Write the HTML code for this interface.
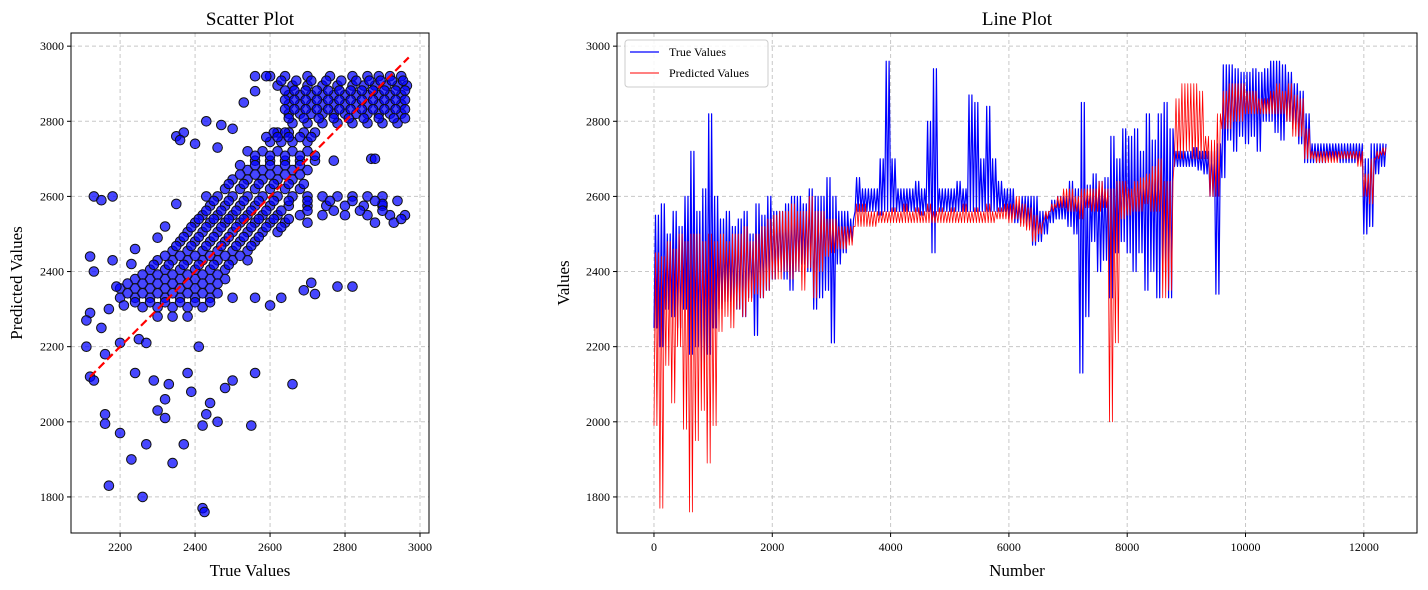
<!DOCTYPE html>
<html><head><meta charset="utf-8">
<style>
html,body{margin:0;padding:0;background:#fff;}
svg{display:block;font-family:"Liberation Serif","DejaVu Serif",serif;}
</style></head>
<body>
<svg id="fig" width="1428" height="590" viewBox="0 0 1428 590"></svg>
<script>
// ---------- Scatter data ----------
const scatterTrue = [2560,2600,2640,2700,2760,2820,2860,2890,2920,2950,
2620,2660,2700,2740,2780,2820,2850,2880,2910,2940,2965,
2650,2680,2710,2740,2770,2800,2830,2860,2890,2920,2950,
2650,2680,2710,2740,2770,2800,2830,2860,2890,2920,2950,
2650,2680,2710,2740,2770,2800,2830,2860,2890,2920,2950,
2660,2700,2740,2780,2820,2860,2900,2940,
2620,2650,2690,2720,2610,
2600,2630,2660,2700,
2580,2620,2660,2700,2540,
2560,2600,2640,2680,2720,2770,
2540,2580,2620,2660,2700,
2500,2540,2580,2620,2660,
2480,2520,2560,2600,2640,2680,
2430,2460,2500,2540,2580,2620,2660,2700,2740,2780,2820,2860,2900,
2440,2480,2520,2560,2600,2650,2700,2750,2800,2850,2900,
2420,2460,2500,2540,2580,2620,2680,2740,2800,2860,2920,2960,
2400,2440,2480,2520,2560,2600,2640,2700,
2380,2420,2460,2500,2540,2580,2620,
2360,2400,2440,2480,2520,2560,
2340,2380,2420,2460,2500,2540,
2300,2340,2380,2420,2460,2500,2540,
2280,2320,2360,2400,2440,2480,
2240,2280,2320,2360,2400,2440,2480,
2200,2240,2280,2320,2360,2400,2440,
2200,2240,2280,2320,2360,2400,2440,2500,2560,
2260,2300,2340,2380,2420,
2300,2340,2380,
2130,2150,2180,2120,2130,2120,2110,2110,2120,2130,2160,2200,2160,2160,2200,2230,2170,2260,2270,2240,2290,2300,2320,2340,2370,2320,2330,2380,2390,2410,2420,2430,2440,2460,2420,2425,2480,2500,2550,2560,2430,2470,2350,2370,2360,2400,2460,2500,2530,2560,2590,2640,2660,2710,2720,2780,2820,2690,2630,2600,2870,2880,2930,2950,2880,2900,2350,2320,2300,2240,2230,2190,2180,2150,2170,2250,2270,2210];
const scatterPred = [2920,2920,2920,2920,2920,2920,2920,2920,2920,2920,
2895,2895,2895,2895,2895,2895,2895,2895,2895,2895,2895,
2870,2870,2870,2870,2870,2870,2870,2870,2870,2870,2870,
2845,2845,2845,2845,2845,2845,2845,2845,2845,2845,2845,
2820,2820,2820,2820,2820,2820,2820,2820,2820,2820,2820,
2795,2795,2795,2795,2795,2795,2795,2795,
2770,2770,2770,2770,2770,
2745,2745,2745,2745,
2720,2720,2720,2720,2720,
2695,2695,2695,2695,2695,2695,
2670,2670,2670,2670,2670,
2645,2645,2645,2645,2645,
2620,2620,2620,2620,2620,2620,
2600,2600,2600,2600,2600,2600,2600,2600,2600,2600,2600,2600,2600,
2575,2575,2575,2575,2575,2575,2575,2575,2575,2575,2575,
2550,2550,2550,2550,2550,2550,2550,2550,2550,2550,2550,2550,
2530,2530,2530,2530,2530,2530,2530,2530,
2505,2505,2505,2505,2505,2505,2505,
2480,2480,2480,2480,2480,2480,
2455,2455,2455,2455,2455,2455,
2430,2430,2430,2430,2430,2430,2430,
2405,2405,2405,2405,2405,2405,
2380,2380,2380,2380,2380,2380,2380,
2355,2355,2355,2355,2355,2355,2355,
2330,2330,2330,2330,2330,2330,2330,2330,2330,
2305,2305,2305,2305,2305,
2280,2280,2280,
2600,2590,2600,2440,2400,2290,2270,2200,2120,2110,2180,2210,2020,1995,1970,1900,1830,1800,1940,2130,2110,2030,2010,1890,1940,2060,2100,2130,2080,2200,1990,2020,2050,2000,1770,1760,2090,2110,1990,2130,2800,2790,2760,2770,2750,2740,2730,2780,2850,2880,2920,2770,2100,2370,2340,2360,2360,2350,2330,2310,2700,2700,2530,2540,2530,2580,2580,2520,2490,2460,2420,2360,2430,2250,2300,2220,2210,2310];
// second set of dense-cluster points
const scatterTrue2 = [2630,2670,2710,2750,2790,2830,2865,2895,2925,2955,
2640,2665,2695,2725,2755,2785,2815,2845,2875,2905,2935,2960,
2640,2665,2695,2725,2755,2785,2815,2845,2875,2905,2935,2960,
2640,2665,2695,2725,2755,2785,2815,2845,2875,2905,2935,2960,
2650,2690,2730,2770,2810,2850,2890,2930,2960,
2590,2620,2650,2680,2710,
2560,2600,2640,2680,2720,
2520,2560,2600,2640,2680,
2520,2560,2600,2640,2680,
2490,2530,2570,2610,2650,2690,
2450,2490,2530,2570,2610,2650,2700,2760,2820,2880,2940,
2430,2470,2510,2550,2590,2630,2700,2770,2840,2900,
2410,2450,2490,2530,2570,2610,2650,
2390,2430,2470,2510,2550,2590,2630,
2370,2410,2450,2490,2530,2570,
2350,2390,2430,2470,2510,2550,
2320,2360,2400,2440,2480,2520,
2290,2330,2370,2410,2450,2490,
2260,2300,2340,2380,2420,2460,
2220,2260,2300,2340,2380,2420,2460,
2220,2260,2300,2340,2380,2420,2460,
2240,2280,2320,2360,2400,2440];
const scatterPred2 = [2908,2908,2908,2908,2908,2908,2908,2908,2908,2908,
2882,2882,2882,2882,2882,2882,2882,2882,2882,2882,2882,2882,
2857,2857,2857,2857,2857,2857,2857,2857,2857,2857,2857,2857,
2832,2832,2832,2832,2832,2832,2832,2832,2832,2832,2832,2832,
2808,2808,2808,2808,2808,2808,2808,2808,2808,
2758,2758,2758,2758,2758,
2708,2708,2708,2708,2708,
2683,2683,2683,2683,2683,
2658,2658,2658,2658,2658,
2633,2633,2633,2633,2633,2633,
2588,2588,2588,2588,2588,2588,2588,2588,2588,2588,2588,
2562,2562,2562,2562,2562,2562,2562,2562,2562,2562,
2540,2540,2540,2540,2540,2540,2540,
2518,2518,2518,2518,2518,2518,2518,
2492,2492,2492,2492,2492,2492,
2468,2468,2468,2468,2468,2468,
2442,2442,2442,2442,2442,2442,
2418,2418,2418,2418,2418,2418,
2392,2392,2392,2392,2392,2392,
2368,2368,2368,2368,2368,2368,2368,
2342,2342,2342,2342,2342,2342,2342,
2318,2318,2318,2318,2318,2318];
const scatterXTicks = [2200,2400,2600,2800,3000];
const scatterYTicks = [1800,2000,2200,2400,2600,2800,3000];

// ---------- Line data (bucketed per 100 samples: high / low) ----------
const lineBucketSize = 100;
const trueHi = [2550,2580,2500,2560,2520,2600,2720,2560,2620,2820,
2600,2540,2560,2520,2540,2560,2500,2580,2550,2600,
2560,2560,2580,2600,2600,2580,2620,2600,2600,2650,
2600,2560,2560,2540,2650,2620,2620,2620,2700,2960,
2700,2620,2620,2620,2640,2620,2800,2940,2620,2620,
2620,2640,2620,2870,2850,2700,2840,2700,2640,2620,
2620,2580,2600,2600,2600,2560,2560,2590,2600,2600,
2640,2620,2850,2630,2660,2640,2650,2760,2700,2780,
2760,2780,2720,2820,2750,2820,2850,2780,2720,2720,
2720,2730,2720,2720,2720,2740,2950,2950,2940,2930,
2930,2940,2930,2940,2960,2960,2950,2930,2900,2880,
2820,2740,2740,2740,2740,2740,2740,2740,2740,2740,
2700,2740,2740,2740];
const trueLo = [2250,2200,2300,2280,2250,2300,2180,2200,2150,2180,
2250,2300,2320,2320,2300,2280,2330,2230,2330,2350,
2380,2400,2380,2350,2400,2420,2400,2300,2330,2350,
2210,2420,2450,2480,2560,2560,2560,2560,2550,2560,
2560,2560,2560,2560,2560,2550,2560,2450,2560,2560,
2560,2560,2560,2560,2560,2560,2560,2560,2560,2560,
2540,2530,2530,2520,2470,2480,2500,2530,2540,2540,
2520,2500,2130,2280,2480,2400,2430,2330,2450,2480,
2450,2400,2450,2350,2400,2330,2400,2330,2680,2680,
2680,2680,2670,2660,2600,2340,2650,2750,2720,2760,
2740,2760,2720,2800,2800,2770,2750,2800,2780,2740,
2690,2690,2690,2690,2700,2700,2690,2690,2690,2690,
2500,2520,2660,2680];
const predHi = [2450,2440,2480,2460,2500,2480,2500,2500,2480,2500,
2480,2500,2480,2500,2500,2520,2480,2500,2520,2540,
2550,2560,2560,2580,2560,2560,2600,2560,2560,2540,
2540,2520,2520,2520,2580,2580,2560,2560,2560,2560,
2570,2560,2580,2560,2570,2560,2580,2560,2570,2560,
2570,2560,2580,2560,2570,2560,2580,2560,2570,2580,
2580,2600,2580,2570,2550,2530,2560,2580,2600,2620,
2620,2600,2620,2620,2620,2640,2620,2620,2640,2640,
2620,2640,2650,2660,2680,2700,2640,2640,2860,2900,
2900,2900,2880,2760,2750,2820,2880,2900,2900,2900,
2880,2880,2860,2860,2880,2900,2880,2900,2870,2860,
2780,2720,2720,2720,2720,2720,2720,2720,2720,2720,
2660,2700,2720,2730];
const predLo = [1990,1770,2150,2050,2200,1980,1760,1950,2030,1890,
1990,2240,2280,2250,2300,2280,2320,2340,2330,2350,
2380,2380,2400,2380,2400,2350,2410,2330,2400,2440,
2450,2460,2460,2470,2520,2520,2520,2520,2530,2530,
2530,2530,2530,2530,2530,2530,2530,2530,2530,2530,
2530,2530,2530,2530,2530,2530,2530,2530,2540,2540,
2530,2540,2520,2510,2480,2500,2540,2560,2570,2570,
2560,2560,2540,2570,2560,2560,2570,2000,2210,2540,
2550,2560,2560,2580,2560,2560,2330,2350,2700,2700,
2720,2700,2700,2700,2600,2600,2780,2780,2800,2800,
2820,2820,2820,2820,2820,2820,2820,2800,2760,2760,
2700,2700,2690,2690,2690,2690,2700,2700,2700,2680,
2600,2580,2700,2710];
const lineXTicks = [0,2000,4000,6000,8000,10000,12000];
const lineYTicks = [1800,2000,2200,2400,2600,2800,3000];

const NS = "http://www.w3.org/2000/svg";
const svg = document.getElementById('fig');
function mk(tag, attrs, parent){
  const e = document.createElementNS(NS, tag);
  for (const k in attrs) e.setAttribute(k, attrs[k]);
  (parent||svg).appendChild(e);
  return e;
}

const L = {x0:71, x1:429, y0:33, y1:533, xmin:2069, xmax:3024, ymin:1704, ymax:3035};
const R = {x0:617, x1:1417, y0:33, y1:533, xmin:-625, xmax:12899, ymin:1704, ymax:3035};
function sx(a,v){return a.x0 + (v-a.xmin)/(a.xmax-a.xmin)*(a.x1-a.x0);}
function sy(a,v){return a.y1 - (v-a.ymin)/(a.ymax-a.ymin)*(a.y1-a.y0);}

function axes(a, xt, yt, name){
  const g = mk('g',{});
  
  
  const grid = mk('g',{stroke:'#c8c8c8','stroke-width':1,'stroke-dasharray':'4,3'},g);
  
  
  xt.forEach(v=>{const x=sx(a,v); mk('line',{x1:x,x2:x,y1:a.y0,y2:a.y1},grid);});
  yt.forEach(v=>{const y=sy(a,v); mk('line',{x1:a.x0,x2:a.x1,y1:y,y2:y},grid);});
  const tg = mk('g',{'font-size':12,fill:'#000'},g);
  
  
  xt.forEach(v=>{const x=sx(a,v);
    mk('line',{x1:x,x2:x,y1:a.y1,y2:a.y1+4,stroke:'#000'},g);
    const t=mk('text',{x:x,y:a.y1+18,'text-anchor':'middle'},tg); t.textContent=v;
    
    });
  yt.forEach(v=>{const y=sy(a,v);
    mk('line',{x1:a.x0-4,x2:a.x0,y1:y,y2:y,stroke:'#000'},g);
    const t=mk('text',{x:a.x0-7,y:y+4,'text-anchor':'end'},tg); t.textContent=v;
    
    });
  return g;
}

// ---------- Scatter ----------
axes(L, scatterXTicks, scatterYTicks, 'scatter');
const pts = mk('g',{fill:'rgba(0,0,255,0.72)',stroke:'#111','stroke-width':1});


const allX = scatterTrue.concat(scatterTrue2);
const allY = scatterPred.concat(scatterPred2);
for (let i=0;i<allX.length;i++){
  const c = mk('circle',{cx:sx(L,allX[i]).toFixed(1),cy:sy(L,allY[i]).toFixed(1),r:4.8},pts);
  
  
}
const diag = mk('line',{x1:sx(L,2120),y1:sy(L,2120),x2:sx(L,2970),y2:sy(L,2970),stroke:'#f00','stroke-width':2.2,'stroke-dasharray':'8,4'});


mk('rect',{x:L.x0,y:L.y0,width:L.x1-L.x0,height:L.y1-L.y0,fill:'none',stroke:'#000','stroke-width':1});

// ---------- Line ----------
axes(R, lineXTicks, lineYTicks, 'line');
function series(hi, lo, color, w, name){
  let d='';
  const steps = 4;
  for (let k=0;k<hi.length;k++){
    const i0 = k*lineBucketSize;
    for (let j=0;j<steps;j++){
      const v = (j%2===0)? lo[k] : hi[k];
      const x = sx(R, i0 + j*lineBucketSize/steps), y = sy(R, v);
      d += ((k===0&&j===0)?'M':'L') + x.toFixed(1)+','+y.toFixed(1);
    }
  }
  const p = mk('path',{d:d,fill:'none',stroke:color,'stroke-width':w,'stroke-linejoin':'round'});
  
  
}
series(trueHi, trueLo, '#0000ff', 1.2, 'true-values-line');
series(predHi, predLo, '#ff0000', 0.8, 'predicted-values-line');
mk('rect',{x:R.x0,y:R.y0,width:R.x1-R.x0,height:R.y1-R.y0,fill:'none',stroke:'#000','stroke-width':1});

// legend
const lg = mk('g',{});


mk('rect',{x:625,y:40,width:143,height:47,rx:3,fill:'#fff','fill-opacity':0.85,stroke:'#ccc'},lg);
mk('line',{x1:630,x2:659,y1:52,y2:52,stroke:'#00f','stroke-width':1.3},lg);
mk('line',{x1:630,x2:659,y1:73,y2:73,stroke:'#f00','stroke-width':0.9},lg);
let t=mk('text',{x:669,y:56,'font-size':12},lg); t.textContent='True Values';


t=mk('text',{x:669,y:77,'font-size':12},lg); t.textContent='Predicted Values';



function label(txt,x,y,size,name,rot){
  const e=mk('text',{x:x,y:y,'font-size':size,'text-anchor':'middle'});
  if(rot) e.setAttribute('transform','rotate(-90 '+x+' '+y+')');
  e.textContent=txt;
  
  
}
label('Scatter Plot',250,25,19,'scatter-title');
label('Line Plot',1017,25,19,'line-title');
label('True Values',250,576,17,'scatter-x-axis-title');
label('Predicted Values',22,283,17,'scatter-y-axis-title',true);
label('Number',1017,576,17,'line-x-axis-title');
label('Values',569,283,17,'line-y-axis-title',true);
</script>
</body></html>
